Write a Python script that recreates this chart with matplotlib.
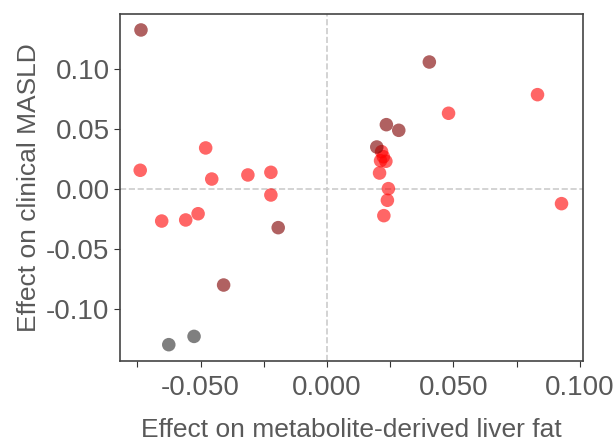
import numpy as np
import pandas as pd
import matplotlib
matplotlib.use('Agg')
import matplotlib.pyplot as plt
from matplotlib.ticker import FixedLocator

plt.rcParams['font.family'] = ['Liberation Sans', 'DejaVu Sans']

# effect estimates
red_x = [-0.0739, -0.0480, -0.0456, -0.0313, -0.0222, -0.0222, -0.0654, -0.0559,
         -0.0510, 0.0833, 0.0481, 0.0216, 0.0223, 0.0212, 0.0233, 0.0208,
         0.0243, 0.0239, 0.0225, 0.0928]
red_y = [0.0156, 0.0342, 0.0083, 0.0117, 0.0139, -0.0050, -0.0267, -0.0258,
         -0.0206, 0.0786, 0.0631, 0.0311, 0.0269, 0.0236, 0.0231, 0.0133,
         0.0003, -0.0094, -0.0222, -0.0122]
dark_x = [-0.0736, -0.0193, -0.0409, 0.0405, 0.0235, 0.0284, 0.0197]
dark_y = [0.1325, -0.0322, -0.0800, 0.1058, 0.0536, 0.0489, 0.0350]
grey_x = [-0.0626, -0.0526]
grey_y = [-0.1297, -0.1228]

txt = '#595959'

fig = plt.figure(figsize=(6.15, 4.44), dpi=100)
ax = fig.add_axes([120/615, 1-361/444, 463/615, 347/444])

ax.axhline(0, color='#cccccc', ls='--', lw=1.2, zorder=0)
ax.axvline(0, color='#cccccc', ls='--', lw=1.2, zorder=0)

ax.scatter(red_x, red_y, s=95, color='red', alpha=0.6, edgecolors='none', zorder=2)
ax.scatter(dark_x, dark_y, s=95, color='#800000', alpha=0.62, edgecolors='none', zorder=2)
ax.scatter(grey_x, grey_y, s=95, color='black', alpha=0.5, edgecolors='none', zorder=2)

ax.set_xlim(-0.0819, 0.1013)
ax.set_ylim(-0.1433, 0.1458)

xt = [-0.075, -0.05, -0.025, 0.0, 0.025, 0.05, 0.075, 0.1]
ax.xaxis.set_major_locator(FixedLocator(xt))
ax.set_xticklabels(['' if abs(round(t / 0.05) * 0.05 - t) > 1e-9 else f'{t:.3f}' for t in xt])
ax.yaxis.set_major_locator(FixedLocator([-0.10, -0.05, 0.0, 0.05, 0.10]))
ax.set_yticklabels(['-0.10', '-0.05', '0.00', '0.05', '0.10'])

ax.tick_params(labelsize=20, labelcolor=txt, color='#333333', length=4)
ax.tick_params(axis='x', pad=6)
for s in ax.spines.values():
    s.set_color('#444444')
    s.set_linewidth(1.2)

ax.set_xlabel('Effect on metabolite-derived liver fat', fontsize=19, color=txt, labelpad=12)
ax.set_ylabel('Effect on clinical MASLD', fontsize=19, color=txt, labelpad=4)

fig.savefig('out.png', dpi=100)
